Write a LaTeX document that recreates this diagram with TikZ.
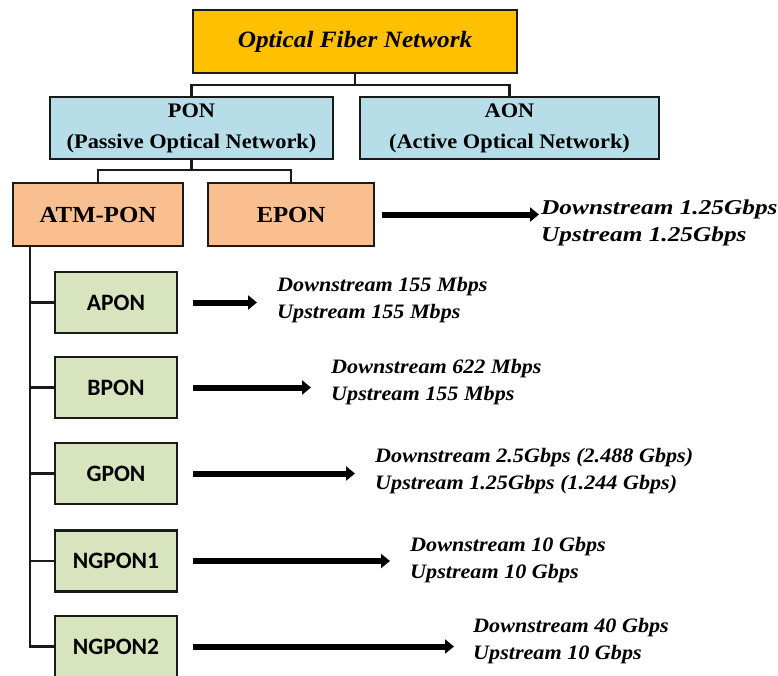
\documentclass[tikz,border=0pt]{standalone}
\usepackage{fontspec}
\setmainfont{Liberation Serif}
\newfontfamily\tnr[FakeStretch=1.08]{Liberation Serif}
\newfontfamily\tnrw[FakeStretch=1.2]{Liberation Serif}
\newfontfamily\cfont{Carlito}
\usetikzlibrary{arrows.meta}
\definecolor{gold}{HTML}{FFC000}
\definecolor{lblue}{HTML}{B7DEE8}
\definecolor{peach}{HTML}{F9BF91}
\definecolor{lgreen}{HTML}{D7E4BD}
\definecolor{edge}{HTML}{1A1A1A}
\tikzset{
  box/.style={draw=edge, line width=2.6pt, minimum height=62pt, inner sep=0pt, align=center},
  topbox/.style={box, fill=gold, minimum width=324pt, minimum height=63pt,
    font=\tnr\bfseries\itshape\fontsize{23.4}{28}\selectfont},
  bluebox/.style={box, fill=lblue, font=\tnr\bfseries\fontsize{20.7}{31}\selectfont},
  peachbox/.style={box, fill=peach, minimum height=63pt, font=\tnr\bfseries\fontsize{23}{27}\selectfont},
  greenbox/.style={box, fill=lgreen, minimum width=122pt, minimum height=61pt,
    font=\cfont\bfseries\fontsize{23.5}{26}\selectfont},
  rate/.style={anchor=west, align=left, inner sep=2pt,
    font=\tnr\bfseries\itshape\fontsize{20.5}{27}\selectfont},
  bigrate/.style={rate, font=\tnrw\bfseries\itshape\fontsize{21.1}{27}\selectfont},
  conn/.style={draw=edge, line width=2.8pt},
  arr/.style={draw=black, line width=6pt, -{Triangle[length=9pt,width=14pt]}},
}
\begin{document}
\begin{tikzpicture}[x=1pt,y=-1pt]
\useasboundingbox[fill=white] (0,0) rectangle (778,675);
% top
\node[topbox] (ofn) at (355,41.5) {Optical Fiber Network};
\node[bluebox, minimum width=283pt] (pon) at (191.5,128) {PON\\(Passive Optical Network)};
\node[bluebox, minimum width=299pt] (aon) at (509.5,128) {AON\\(Active Optical Network)};
\coordinate (j1) at (355,85);
\draw[conn] (ofn.south) -- (j1);
\draw[conn] (pon.north) |- (j1) -| (aon.north);
% second level
\node[peachbox, minimum width=170pt] (atm) at (98,214.5) {ATM-PON};
\node[peachbox, minimum width=166pt] (epon) at (291,214.5) {EPON};
\coordinate (j2) at (191.5,170);
\draw[conn] (pon.south) -- (j2);
\draw[conn] (atm.north) |- (j2) -| (epon.north);
% green boxes
\node[greenbox] (apon) at (116,302.5) {APON};
\node[greenbox] (bpon) at (116,387.5) {BPON};
\node[greenbox] (gpon) at (116,473.5) {GPON};
\node[greenbox] (ng1) at (116,561) {NGPON1};
\node[greenbox] (ng2) at (116,646.5) {NGPON2};
\coordinate (tr) at (30,246);
\draw[conn] (tr) |- (ng2.west);
\foreach \b in {apon,bpon,gpon,ng1}{
  \draw[conn] (tr |- \b.west) -- (\b.west);
}
% rates
\node[bigrate] (re) at (539,222.5) {Downstream 1.25Gbps\\Upstream 1.25Gbps};
\node[rate] (ra) at (275,300.5) {Downstream 155 Mbps\\Upstream 155 Mbps};
\node[rate] (rb) at (329,382.5) {Downstream 622 Mbps\\Upstream 155 Mbps};
\node[rate] (rg) at (373,471.5) {Downstream 2.5Gbps (2.488 Gbps)\\Upstream 1.25Gbps (1.244 Gbps)};
\node[rate] (rn1) at (408,560.5) {Downstream 10 Gbps\\Upstream 10 Gbps};
\node[rate] (rn2) at (471,641) {Downstream 40 Gbps\\Upstream 10 Gbps};
% arrows
\draw[arr] ([xshift=7pt]epon.east) -- (epon.east -| re.west);
\draw[arr] ([xshift=15pt]apon.east) -- ([xshift=-18pt]apon.east -| ra.west);
\draw[arr] ([xshift=15pt]bpon.east) -- ([xshift=-18pt]bpon.east -| rb.west);
\draw[arr] ([xshift=15pt]gpon.east) -- ([xshift=-18pt]gpon.east -| rg.west);
\draw[arr] ([xshift=15pt]ng1.east) -- ([xshift=-18pt]ng1.east -| rn1.west);
\draw[arr] ([xshift=15pt]ng2.east) -- ([xshift=-17pt]ng2.east -| rn2.west);
\end{tikzpicture}
\end{document}
